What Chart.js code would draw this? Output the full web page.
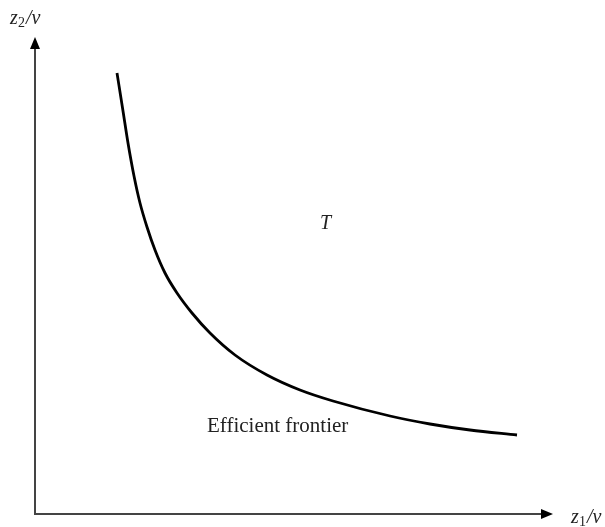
<!DOCTYPE html>
<html>
<head>
<meta charset="utf-8">
<script src="https://cdn.jsdelivr.net/npm/chart.js@4"></script>
<style>
  html, body { margin: 0; padding: 0; background: #fff; }
  #wrap { width: 605px; height: 527px; position: relative; }
</style>
</head>
<body>
<div id="wrap"><canvas id="myChart"></canvas></div>
<script>
// frontier points (z1/v, z2/v), arbitrary units
var frontierX = [82, 88, 93, 99, 105, 112, 120, 130, 142, 157, 175, 200, 232, 265, 298, 355, 395, 435, 482];
var frontierY = [441, 403, 371, 338, 311, 287, 264, 241, 221, 201, 181, 159, 139, 124, 113, 98, 90, 84, 79];

// axis extents
var xMax = 518;
var yMax = 477;

var points = [];
for (var i = 0; i < frontierX.length; i++) {
  points.push({ x: frontierX[i], y: frontierY[i] });
}

// draws the two arrowed axes and the labels
var axesPlugin = {
  id: 'axesPlugin',
  afterDraw: function (chart) {
    var ctx = chart.ctx;
    var xs = chart.scales.x;
    var ys = chart.scales.y;
    var x0 = xs.getPixelForValue(0);
    var y0 = ys.getPixelForValue(0);
    var xEnd = xs.getPixelForValue(xMax);
    var yEnd = ys.getPixelForValue(yMax);

    ctx.save();
    ctx.strokeStyle = '#444';
    ctx.lineWidth = 2;
    ctx.beginPath();
    ctx.moveTo(x0, yEnd + 10);
    ctx.lineTo(x0, y0);
    ctx.lineTo(xEnd - 10, y0);
    ctx.stroke();

    ctx.fillStyle = '#000';
    ctx.beginPath();
    ctx.moveTo(x0, yEnd);
    ctx.lineTo(x0 - 5, yEnd + 12);
    ctx.lineTo(x0 + 5, yEnd + 12);
    ctx.closePath();
    ctx.fill();
    ctx.beginPath();
    ctx.moveTo(xEnd, y0);
    ctx.lineTo(xEnd - 12, y0 - 5);
    ctx.lineTo(xEnd - 12, y0 + 5);
    ctx.closePath();
    ctx.fill();

    ctx.fillStyle = '#222';
    ctx.textBaseline = 'alphabetic';

    // z2/v
    ctx.font = 'italic 20px "Liberation Serif"';
    ctx.fillText('z', 10, 24);
    ctx.font = '14px "Liberation Serif"';
    ctx.fillText('2', 18, 27);
    ctx.font = 'italic 20px "Liberation Serif"';
    ctx.fillText('/v', 26, 24);

    // z1/v
    ctx.fillText('z', 571, 523);
    ctx.font = '14px "Liberation Serif"';
    ctx.fillText('1', 579, 526);
    ctx.font = 'italic 20px "Liberation Serif"';
    ctx.fillText('/v', 587, 523);

    ctx.fillText('T', 320, 229);

    ctx.font = '21px "Liberation Serif"';
    ctx.fillText('Efficient frontier', 207, 432);
    ctx.restore();
  }
};

var ctx = document.getElementById('myChart').getContext('2d');
var myChart = new Chart(ctx, {
  type: 'scatter',
  data: {
    datasets: [{
      data: points,
      showLine: true,
      borderColor: '#000',
      borderWidth: 2.8,
      pointRadius: 0,
      cubicInterpolationMode: 'monotone',
      fill: false
    }]
  },
  options: {
    responsive: true,
    maintainAspectRatio: false,
    animation: false,
    layout: {
      padding: { left: 35, top: 37, right: 52, bottom: 13 }
    },
    plugins: {
      legend: { display: false },
      tooltip: { enabled: false }
    },
    scales: {
      x: { type: 'linear', min: 0, max: xMax, display: false },
      y: { type: 'linear', min: 0, max: yMax, display: false }
    }
  },
  plugins: [axesPlugin]
});
</script>
</body>
</html>
